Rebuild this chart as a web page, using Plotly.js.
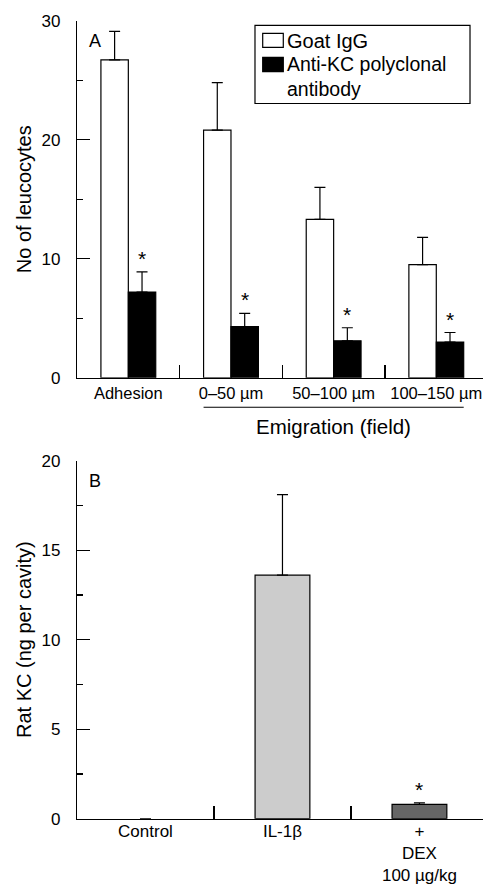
<!DOCTYPE html>
<html>
<head>
<meta charset="utf-8">
<script src="https://cdn.plot.ly/plotly-3.0.1.min.js"></script>
<style>html,body{margin:0;padding:0;background:#fff;}#chart{width:483px;height:884px;}</style>
</head>
<body>
<div id="chart"></div>
<script>
// ---- Panel A data ----
const catsA = ['Adhesion', '0–50 µm', '50–100 µm', '100–150 µm'];
const nameGoat = 'Goat IgG';
const goatIgG = [26.7, 20.8, 13.3, 9.5];
const goatIgGErr = [2.4, 4.0, 2.7, 2.3];
const nameAnti = 'Anti-KC polyclonal<br>antibody';
const antiKC = [7.2, 4.3, 3.1, 3.0];
const antiKCErr = [1.7, 1.1, 1.1, 0.8];
const sigA = [true, true, true, true];
const groupLabel = 'Emigration (field)';
const groupStart = 1, groupEnd = 3;

// ---- Panel B data ----
const catsB = ['Control', 'IL-1β', '+<br>DEX<br>100 µg/kg'];
const ratKC = [0, 13.6, 0.8];
const ratKCErr = [null, 4.5, 0.09];
const sigB = [false, false, true];
const colorsB = ['#ffffff', '#cccccc', '#666666'];

const FONT = 'Liberation Sans, Arial, sans-serif';
const BW_A = 0.267, BW_B = 0.4;
const LW = 1.2;

const errStyle = {type: 'data', symmetric: false, color: '#000', thickness: LW, width: 5.5};

const traces = [
  {type: 'bar', x: catsA, y: goatIgG, name: nameGoat, xaxis: 'x', yaxis: 'y',
   width: BW_A, offset: -BW_A, marker: {color: '#ffffff', line: {color: '#000', width: LW}},
   error_y: Object.assign({array: goatIgGErr, arrayminus: goatIgG.map(() => 0)}, errStyle),
   showlegend: false, hoverinfo: 'skip'},
  {type: 'bar', x: catsA, y: antiKC, name: nameAnti, xaxis: 'x', yaxis: 'y',
   width: BW_A, offset: 0, marker: {color: '#000000', line: {color: '#000', width: LW}},
   error_y: Object.assign({array: antiKCErr, arrayminus: antiKC.map(() => 0)}, errStyle),
   showlegend: false, hoverinfo: 'skip'},
  {type: 'bar', x: catsB, y: ratKC, name: 'Rat KC', xaxis: 'x2', yaxis: 'y2',
   width: BW_B, marker: {color: colorsB, line: {color: '#000', width: ratKC.map(v => v > 0 ? LW : 0)}},
   error_y: Object.assign({array: ratKCErr, arrayminus: ratKC.map(v => v > 0 ? 0 : null)}, errStyle),
   showlegend: false, hoverinfo: 'skip'}
];

const annotations = [];
const starFont = {size: 21, family: FONT, color: '#000'};
sigA.forEach((s, i) => {
  if (s) annotations.push({xref: 'x', yref: 'y', x: i + BW_A / 2, y: antiKC[i] + antiKCErr[i],
    text: '*', showarrow: false, yanchor: 'bottom', yshift: 0, font: starFont});
});
sigB.forEach((s, i) => {
  if (s) annotations.push({xref: 'x2', yref: 'y2', x: i, y: ratKC[i] + ratKCErr[i],
    text: '*', showarrow: false, yanchor: 'bottom', yshift: 0, font: starFont});
});
// panel letters
annotations.push({xref: 'paper', yref: 'paper', x: 0.025, y: 0.9536, xanchor: 'left', yanchor: 'middle',
  text: 'A', showarrow: false, font: {size: 18, family: FONT, color: '#000'}});
annotations.push({xref: 'paper', yref: 'paper', x: 0.025, y: 0.4559, xanchor: 'left', yanchor: 'middle',
  text: 'B', showarrow: false, font: {size: 18, family: FONT, color: '#000'}});
// group label
annotations.push({xref: 'x', yref: 'paper', x: (groupStart + groupEnd) / 2, y: 0.5170, xanchor: 'center', yanchor: 'middle',
  text: groupLabel, showarrow: false, font: {size: 20.5, family: FONT, color: '#000'}});
// legend texts
annotations.push({xref: 'paper', yref: 'paper', x: 0.5135, y: 0.9540, xanchor: 'left', yanchor: 'middle',
  text: nameGoat, showarrow: false, align: 'left', font: {size: 20, family: FONT, color: '#000'}});
annotations.push({xref: 'paper', yref: 'paper', x: 0.5135, y: 0.9137, xanchor: 'left', yanchor: 'middle',
  text: nameAnti, showarrow: false, align: 'left', font: {size: 19.5, family: FONT, color: '#000'}});

const shapes = [
  {type: 'line', xref: 'x', yref: 'paper', x0: groupStart - BW_A, x1: groupEnd + BW_A, y0: 0.5393, y1: 0.5393,
   line: {color: '#000', width: LW}},
  {type: 'rect', xref: 'paper', yref: 'paper', x0: 0.4384, x1: 0.968, y0: 0.8829, y1: 0.9712,
   line: {color: '#000', width: LW}, fillcolor: '#fff'},
  {type: 'rect', xref: 'paper', yref: 'paper', x0: 0.4574, x1: 0.5081, y0: 0.9465, y1: 0.9623,
   line: {color: '#000', width: LW}, fillcolor: '#fff'},
  {type: 'rect', xref: 'paper', yref: 'paper', x0: 0.4574, x1: 0.5081, y0: 0.9189, y1: 0.9352,
   line: {color: '#000', width: LW}, fillcolor: '#000'}
];

const xBase = {type: 'category', showline: true, linecolor: '#000', linewidth: LW, ticks: 'inside',
  tickson: 'boundaries', ticklen: 13, tickwidth: LW, tickcolor: '#000', showgrid: false, zeroline: false,
  tickfont: {size: 17, family: FONT, color: '#000'}, automargin: false, fixedrange: true};
const yBase = {showline: true, linecolor: '#000', linewidth: LW, ticks: 'inside', ticklen: 13, tickwidth: LW,
  tickcolor: '#000', showgrid: false, zeroline: false, ticklabelstandoff: 12,
  tickfont: {size: 17, family: FONT, color: '#000'}, automargin: false, fixedrange: true};

const layout = {
  width: 483, height: 884,
  margin: {l: 77, r: 0, t: 0, b: 0},
  paper_bgcolor: '#fff', plot_bgcolor: 'rgba(0,0,0,0)',
  font: {family: FONT, color: '#000'},
  showlegend: false,
  xaxis: Object.assign({}, xBase, {anchor: 'y', domain: [0, 1], range: [-0.5, 3.455],
    tickfont: {size: 16.5, family: FONT, color: '#000'}}),
  yaxis: Object.assign({}, yBase, {anchor: 'x', domain: [0.5727, 0.9766], range: [0, 30], dtick: 10,
    minor: {ticks: 'inside', ticklen: 6, dtick: 5, tickcolor: '#000', tickwidth: LW},
    title: {text: 'No of leucocytes', font: {size: 20, family: FONT, color: '#000'}, standoff: 4}}),
  xaxis2: Object.assign({}, xBase, {anchor: 'y2', domain: [0, 1], range: [-0.5, 2.464], ticklabelstandoff: -3}),
  yaxis2: Object.assign({}, yBase, {anchor: 'x2', domain: [0.0739, 0.4789], range: [0, 20], dtick: 5,
    minor: {ticks: 'inside', ticklen: 6, dtick: 2.5, tickcolor: '#000', tickwidth: LW},
    title: {text: 'Rat KC (ng per cavity)', font: {size: 20, family: FONT, color: '#000'}, standoff: 4}}),
  annotations: annotations,
  shapes: shapes
};

Plotly.newPlot('chart', traces, layout, {displayModeBar: false, staticPlot: true});
</script>
</body>
</html>
